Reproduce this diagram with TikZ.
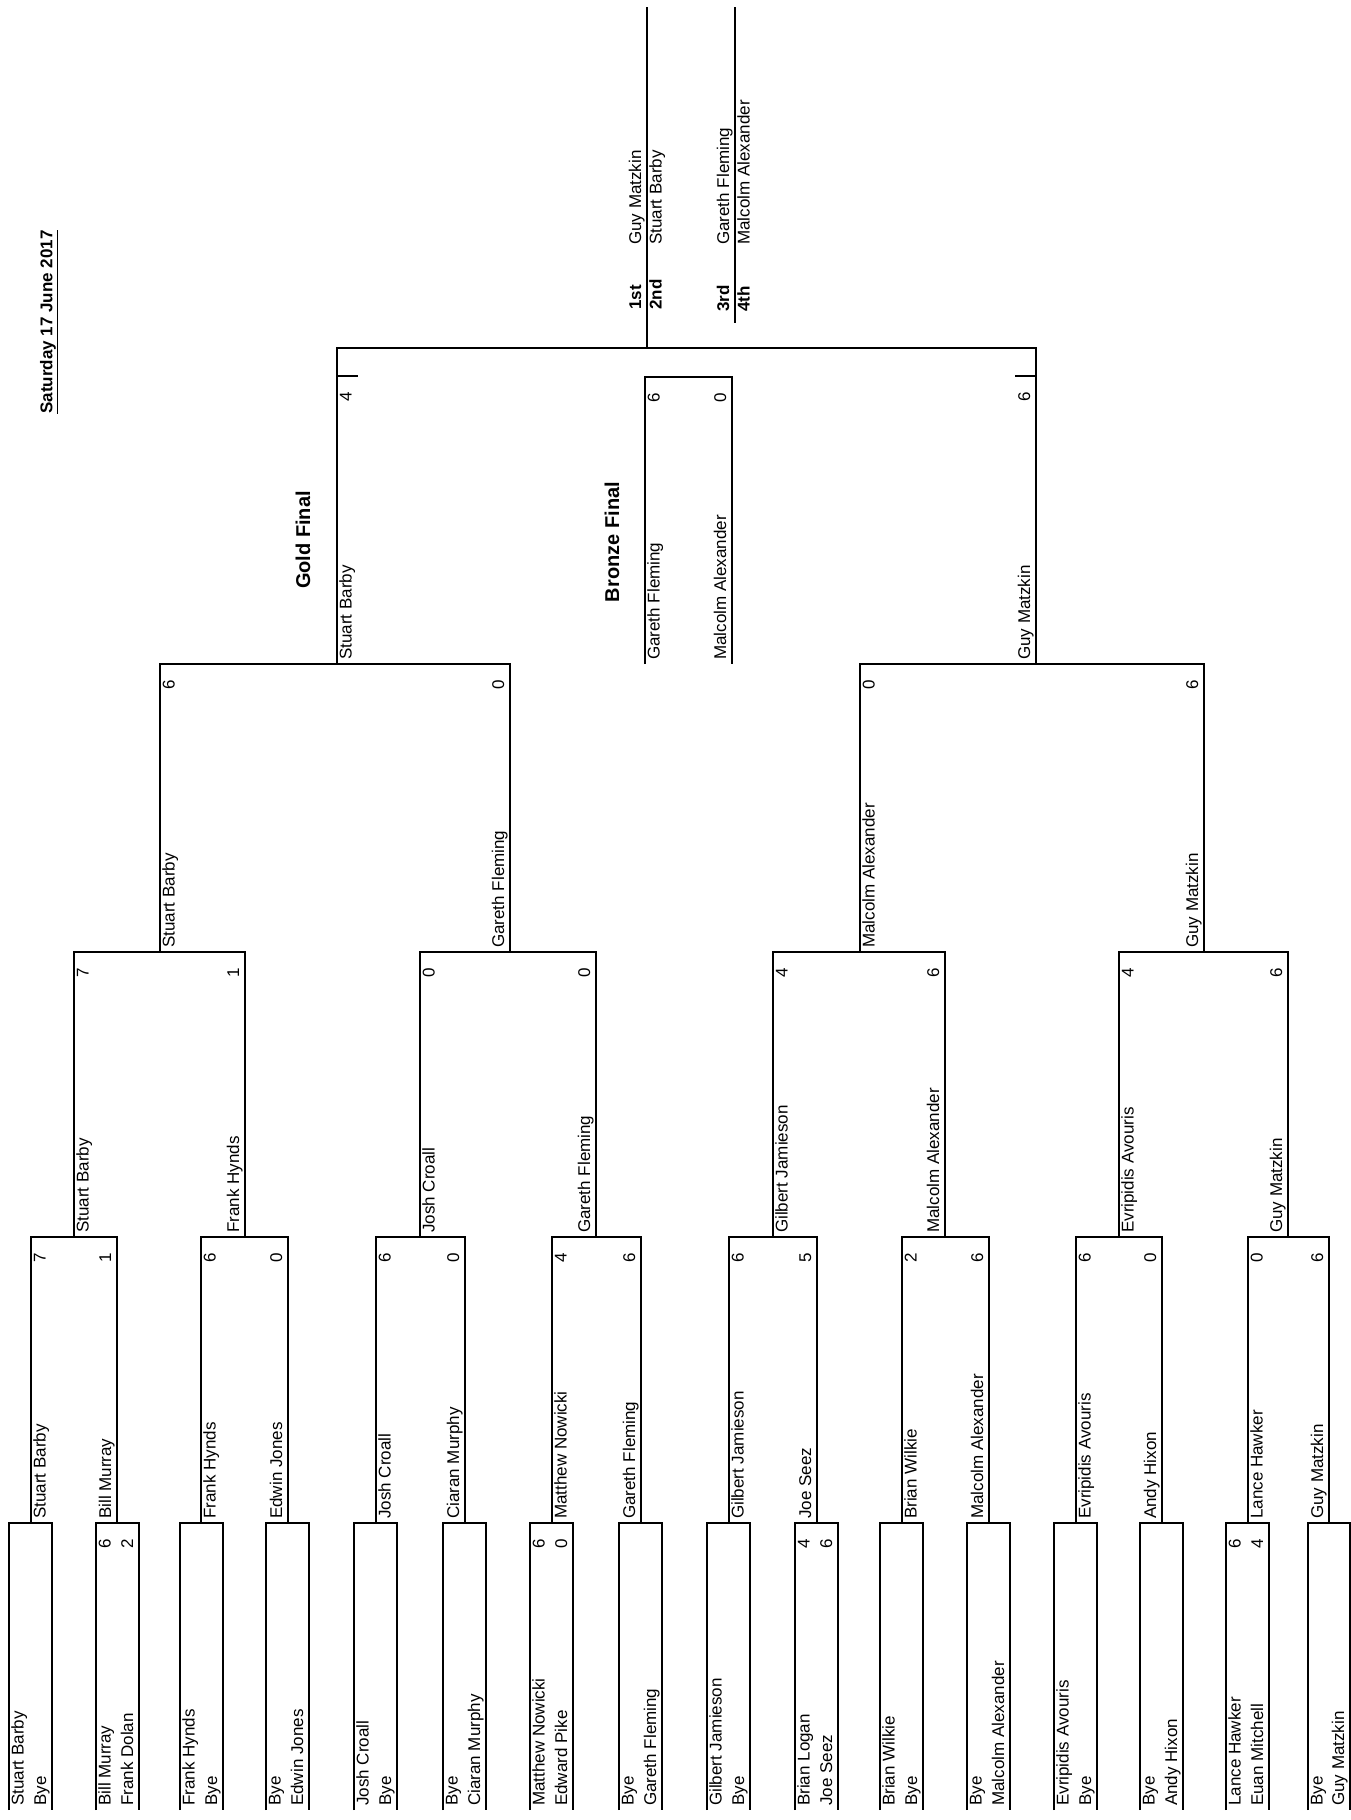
\documentclass[tikz,border=0pt]{standalone}
\usepackage{fontspec}
\setmainfont{Liberation Sans}
\usetikzlibrary{positioning}

% one match: id, left x, right x, top y, bottom y, names, scores
\newcommand{\bout}[9]{%
  \draw[wire] (#2,#5) -- (#2,#4) -- (#3,#4) -- (#3,#5);
  \node[player, anchor=north west] (#1-p1) at (#2,#5-2) {#6};
  \node[player, anchor=south west] (#1-p2) at (#3,#5-2) {#7};
  \node[player, anchor=north east] (#1-s1) at (#2,#4+14) {#8};
  \node[player, anchor=south east] (#1-s2) at (#3,#4+14) {#9};
}

\begin{document}
\begin{tikzpicture}[x=1pt, y=-1pt,
    wire/.style={line width=1.8pt},
    player/.style={rotate=90, inner sep=2pt, font=\fontsize{17}{20}\selectfont, text height=12.5pt, text depth=3.7pt},
    place/.style={player, font=\bfseries\fontsize{17}{20}\selectfont},
    title/.style={rotate=90, inner sep=2pt, font=\bfseries\fontsize{20}{24}\selectfont}
  ]
    \useasboundingbox[fill=white] (0,0) rectangle (1351,1820);

    \node[rotate=90, inner sep=2pt, font=\bfseries\fontsize{17}{20}\selectfont] (date) at (49,322) {\underline{Saturday 17 June 2017}};

    \bout{a1}{9}{52}{1523}{1810}{Stuart Barby}{Bye}{}{}
    \bout{a2}{96}{139}{1523}{1810}{Bill Murray}{Frank Dolan}{6}{2}
    \bout{a3}{180}{223}{1523}{1810}{Frank Hynds}{Bye}{}{}
    \bout{a4}{266}{309}{1523}{1810}{Bye}{Edwin Jones}{}{}
    \bout{a5}{354}{397}{1523}{1810}{Josh Croall}{Bye}{}{}
    \bout{a6}{443}{486}{1523}{1810}{Bye}{Ciaran Murphy}{}{}
    \bout{a7}{530}{573}{1523}{1810}{Matthew Nowicki}{Edward Pike}{6}{0}
    \bout{a8}{619}{662}{1523}{1810}{Bye}{Gareth Fleming}{}{}
    \bout{a9}{707}{750}{1523}{1810}{Gilbert Jamieson}{Bye}{}{}
    \bout{a10}{795}{838}{1523}{1810}{Brian Logan}{Joe Seez}{4}{6}
    \bout{a11}{880}{923}{1523}{1810}{Brian Wilkie}{Bye}{}{}
    \bout{a12}{967}{1010}{1523}{1810}{Bye}{Malcolm Alexander}{}{}
    \bout{a13}{1054}{1097}{1523}{1810}{Evripidis Avouris}{Bye}{}{}
    \bout{a14}{1140}{1183}{1523}{1810}{Bye}{Andy Hixon}{}{}
    \bout{a15}{1226}{1269}{1523}{1810}{Lance Hawker}{Euan Mitchell}{6}{4}
    \bout{a16}{1308}{1350}{1523}{1810}{Bye}{Guy Matzkin}{}{}

    \bout{b1}{31}{117}{1237}{1523}{Stuart Barby}{Bill Murray}{7}{1}
    \bout{b2}{201}{288}{1237}{1523}{Frank Hynds}{Edwin Jones}{6}{0}
    \bout{b3}{376}{465}{1237}{1523}{Josh Croall}{Ciaran Murphy}{6}{0}
    \bout{b4}{552}{641}{1237}{1523}{Matthew Nowicki}{Gareth Fleming}{4}{6}
    \bout{b5}{729}{817}{1237}{1523}{Gilbert Jamieson}{Joe Seez}{6}{5}
    \bout{b6}{902}{989}{1237}{1523}{Brian Wilkie}{Malcolm Alexander}{2}{6}
    \bout{b7}{1076}{1162}{1237}{1523}{Evripidis Avouris}{Andy Hixon}{6}{0}
    \bout{b8}{1248}{1329}{1237}{1523}{Lance Hawker}{Guy Matzkin}{0}{6}

    \bout{c1}{74}{245}{952}{1237}{Stuart Barby}{Frank Hynds}{7}{1}
    \bout{c2}{420}{596}{952}{1237}{Josh Croall}{Gareth Fleming}{0}{0}
    \bout{c3}{773}{945}{952}{1237}{Gilbert Jamieson}{Malcolm Alexander}{4}{6}
    \bout{c4}{1119}{1288}{952}{1237}{Evripidis Avouris}{Guy Matzkin}{4}{6}

    \bout{d1}{160}{510}{664}{952}{Stuart Barby}{Gareth Fleming}{6}{0}
    \bout{d2}{860}{1204}{664}{952}{Malcolm Alexander}{Guy Matzkin}{0}{6}

    \bout{gold}{337}{1036}{348}{664}{Stuart Barby}{Guy Matzkin}{}{}
    \draw[wire] (337,376) -- (358,376);
    \draw[wire] (1036,376) -- (1015,376);
    \node[player, anchor=north east] (gold-s1) at (337,390) {4};
    \node[player, anchor=south east] (gold-s2) at (1036,390) {6};

    \bout{bronze}{645}{732}{377}{664}{Gareth Fleming}{Malcolm Alexander}{6}{0}

    \node[title] (goldfinal) at (303,540) {Gold Final};
    \node[title] (bronzefinal) at (612,542) {Bronze Final};

    \draw[wire] (647,7) -- (647,348);
    \draw[wire] (735,7) -- (735,323);
    \node[place, anchor=south west] (first) at (647,312) {1st};
    \node[player, anchor=south west] (firstname) at (647,247) {Guy Matzkin};
    \node[place, anchor=north west] (second) at (647,312) {2nd};
    \node[player, anchor=north west] (secondname) at (647,247) {Stuart Barby};
    \node[place, anchor=south west] (third) at (735,314) {3rd};
    \node[player, anchor=south west] (thirdname) at (735,247) {Gareth Fleming};
    \node[place, anchor=north west] (fourth) at (735,314) {4th};
    \node[player, anchor=north west] (fourthname) at (735,247) {Malcolm Alexander};
  \end{tikzpicture}
\end{document}
